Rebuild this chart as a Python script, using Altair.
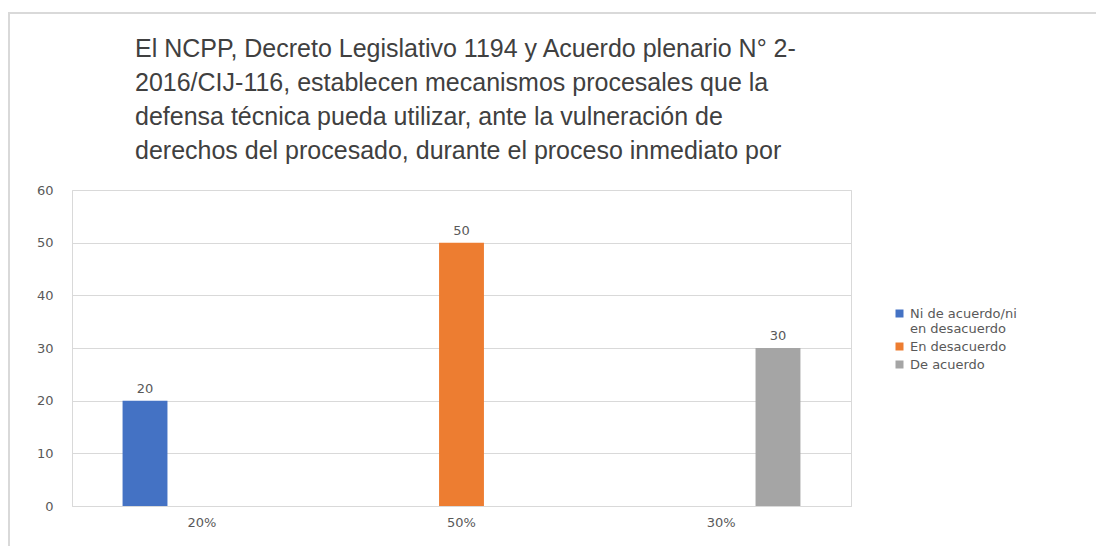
import altair as alt
import pandas as pd

categories = ["20%", "50%", "30%"]
series = ["Ni de acuerdo/ni en desacuerdo", "En desacuerdo", "De acuerdo"]
values = [20, 50, 30]
colors = ["#4472C4", "#ED7D31", "#A5A5A5"]
title_lines = [
    "El NCPP, Decreto Legislativo 1194 y Acuerdo plenario N° 2-",
    "2016/CIJ-116, establecen mecanismos procesales que la",
    "defensa técnica pueda utilizar, ante la vulneración de",
    "derechos del procesado, durante el proceso inmediato por",
]
y_ticks = [0, 10, 20, 30, 40, 50, 60]

df = pd.DataFrame({"cat": categories, "serie": series, "valor": values})

FONT = "DejaVu Sans"
GRAY = "#595959"
LINE = "#d9d9d9"

base = alt.Chart(df).encode(
    x=alt.X("cat:N", sort=categories, title=None,
            scale=alt.Scale(paddingInner=0, paddingOuter=0),
            axis=alt.Axis(labelAngle=0, ticks=False, domain=True, domainColor=LINE,
                          labelFont=FONT, labelFontSize=13, labelColor=GRAY,
                          labelPadding=10)),
    xOffset=alt.XOffset("serie:N", sort=series,
                        scale=alt.Scale(domain=series, paddingInner=0.21, paddingOuter=0.89)),
    y=alt.Y("valor:Q", title=None,
            scale=alt.Scale(domain=[0, 60]),
            axis=alt.Axis(values=y_ticks, ticks=False, domain=False, grid=True,
                          gridColor=LINE, labelFont=FONT, labelFontSize=13,
                          labelColor=GRAY, labelPadding=19)),
)

bars = base.mark_bar().encode(
    color=alt.Color("serie:N", sort=series, title=None,
                    scale=alt.Scale(domain=series, range=colors),
                    legend=alt.Legend(orient="none", legendX=821, legendY=117,
                                      symbolType="square", symbolSize=64,
                                      symbolStrokeWidth=0,
                                      labelFont=FONT, labelFontSize=13,
                                      labelColor=GRAY, labelLimit=300,
                                      rowPadding=4,
                                      labelExpr="datum.label == 'Ni de acuerdo/ni en desacuerdo' ? ['Ni de acuerdo/ni', 'en desacuerdo'] : datum.label"))
)

labels = base.mark_text(font=FONT, fontSize=13, color=GRAY, baseline="alphabetic", dy=-8).encode(
    text="valor:Q"
)

frame = alt.Chart(alt.Data(values=[{}]))
top_line = frame.mark_rule(color=LINE, strokeWidth=2).encode(
    x=alt.value(-64), x2=alt.value(1030), y=alt.value(-177))
left_line = frame.mark_rule(color=LINE, strokeWidth=2).encode(
    x=alt.value(-63), y=alt.value(-177), y2=alt.value(360))

chart = alt.layer(bars, labels, top_line, left_line).properties(
    width=779,
    height=316,
    autosize=alt.AutoSizeParams(type="none"),
    padding={"left": 64, "top": 182, "right": 245, "bottom": 40},
    title=alt.TitleParams(text=title_lines, anchor="start", frame="group", dx=63,
                          offset=-152, font="Liberation Sans", fontSize=25,
                          fontWeight="normal", color="#404040", lineHeight=34),
).configure_view(stroke=LINE, strokeWidth=1)

chart.save("out.html", embed_options={"renderer": "svg", "actions": False})
